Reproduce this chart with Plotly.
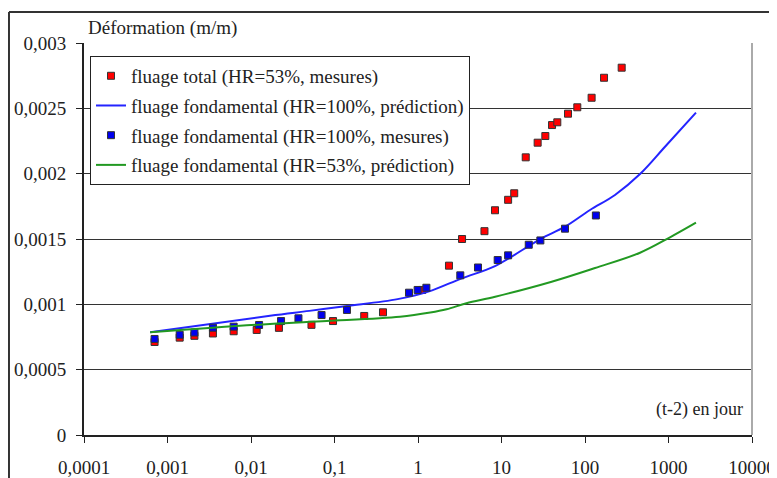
import plotly.graph_objects as go

# fluage total (HR=53%, mesures)
t_total = [0.0007, 0.0014, 0.0021, 0.0035, 0.0062, 0.0117, 0.0216, 0.053, 0.096, 0.227, 0.381,
           1.125, 2.35, 3.37, 6.25, 8.36, 12.0, 14.2, 19.5, 27.1, 33.5, 40.3, 46.6, 62.6, 80.9,
           120, 169, 275]
eps_total = [0.000712, 0.000745, 0.000759, 0.000777, 0.000794, 0.000804, 0.000820, 0.000843,
             0.000872, 0.000911, 0.000939, 0.00111, 0.001296, 0.0015, 0.00156, 0.00172, 0.0018,
             0.00185, 0.002125, 0.002237, 0.002288, 0.002372, 0.002393, 0.002459, 0.002508,
             0.002581, 0.002734, 0.002811]

# fluage fondamental (HR=100%, mesures)
t_fond100 = [0.0007, 0.0014, 0.0021, 0.0035, 0.0062, 0.0125, 0.0229, 0.037, 0.070, 0.141,
             0.78, 0.99, 1.26, 3.21, 5.23, 9.0, 12.0, 21.2, 29.2, 57.6, 135]
eps_fond100 = [0.000735, 0.000767, 0.000784, 0.000821, 0.000829, 0.000842, 0.000872, 0.000893,
               0.000918, 0.000957, 0.001089, 0.00111, 0.001127, 0.001222, 0.001282, 0.001339,
               0.001375, 0.001456, 0.001489, 0.001579, 0.00168]

# fluage fondamental (HR=100%, prédiction)
t_pred100 = [0.00062, 0.0169, 0.05, 0.141, 0.57, 1.33, 3.34, 8.36, 28.9, 57.6, 114.8, 228.6,
             456, 908, 2133]
eps_pred100 = [0.000786, 0.000913, 0.00095, 0.000987, 0.00104, 0.001097, 0.001199, 0.001293,
               0.001498, 0.001594, 0.001722, 0.001837, 0.001997, 0.002206, 0.002467]

# fluage fondamental (HR=53%, prédiction)
t_pred53 = [0.00062, 0.0169, 0.0807, 0.608, 1.4, 2.2, 3.8, 8.4, 39.9, 132, 456, 1042, 2133]
eps_pred53 = [0.000786, 0.00085, 0.000872, 0.000905, 0.000937, 0.000962, 0.001008, 0.001058,
              0.001173, 0.001278, 0.001395, 0.001513, 0.001625]

x_ticks = [0.0001, 0.001, 0.01, 0.1, 1, 10, 100, 1000, 10000]
x_labels = ['0,0001', '0,001', '0,01', '0,1', '1', '10', '100', '1000', '10000']
y_ticks = [0, 0.0005, 0.001, 0.0015, 0.002, 0.0025, 0.003]
y_labels = ['0', '0,0005', '0,001', '0,0015', '0,002', '0,0025', '0,003']

police = '"Liberation Serif", "Times New Roman", Times, serif'
marqueur = dict(symbol='square', size=7, line=dict(color='#333333', width=1))

fig = go.Figure()
fig.add_trace(go.Scatter(x=t_total, y=eps_total, mode='markers',
                         marker=dict(marqueur, color='#ff0000'),
                         name='fluage total (HR=53%, mesures)', legendgroup='a'))
fig.add_trace(go.Scatter(x=t_pred100, y=eps_pred100, mode='lines', line_shape='spline',
                         line=dict(color='#2424ff', width=2),
                         name='fluage fondamental (HR=100%, prédiction)', legendgroup='b'))
fig.add_trace(go.Scatter(x=t_fond100, y=eps_fond100, mode='markers',
                         marker=dict(marqueur, color='#0000ee'),
                         name='fluage fondamental (HR=100%, mesures)', legendgroup='c'))
fig.add_trace(go.Scatter(x=t_pred53, y=eps_pred53, mode='lines', line_shape='spline',
                         line=dict(color='#229922', width=2),
                         name='fluage fondamental (HR=53%, prédiction)', legendgroup='d'))

fig.update_xaxes(type='log', range=[-4, 4], tickvals=x_ticks, ticktext=x_labels,
                 showgrid=False, zeroline=False, showline=True, linecolor='#222222', linewidth=2,
                 ticks='outside', ticklen=6, tickcolor='#222222', ticklabelstandoff=8,
                 automargin=False)
fig.update_yaxes(range=[0, 0.003], tickvals=y_ticks, ticktext=y_labels,
                 showgrid=True, gridcolor='#333333', gridwidth=1.3, zeroline=False,
                 showline=True, linecolor='#222222', linewidth=2,
                 ticks='outside', ticklen=6, tickcolor='#222222', ticklabelstandoff=6,
                 automargin=False)

# la page ajoute 8 px de marge autour de la figure
fig.update_layout(
    width=777, height=478,
    margin=dict(l=76, r=33, t=35, b=51),
    paper_bgcolor='white', plot_bgcolor='white',
    font=dict(family=police, size=19, color='#222222'),
    showlegend=True,
    legend=dict(x=0.009, y=0.967, xanchor='left', yanchor='top',
                bgcolor='white', bordercolor='#222222', borderwidth=1,
                tracegroupgap=2, traceorder='grouped', font=dict(size=19)),
    annotations=[
        dict(text='Déformation (m/m)', xref='paper', yref='paper', x=0.003, y=1.038,
             xanchor='left', yanchor='middle', showarrow=False, font=dict(size=19)),
        dict(text='(t-2) en jour', xref='paper', yref='paper', x=0.99, y=0.064,
             xanchor='right', yanchor='middle', showarrow=False, font=dict(size=18)),
    ],
    shapes=[
        dict(type='line', xref='paper', yref='paper', x0=1, x1=1, y0=0, y1=1,
             line=dict(color='#aaaaaa', width=2)),
        dict(type='line', xref='paper', yref='paper', x0=-0.1123, x1=1.05, y0=1.079, y1=1.079,
             line=dict(color='#333333', width=2)),
        dict(type='line', xref='paper', yref='paper', x0=-0.1123, x1=-0.1123, y0=-0.12, y1=1.079,
             line=dict(color='#333333', width=2)),
    ],
)

fig.write_html('out.html')
